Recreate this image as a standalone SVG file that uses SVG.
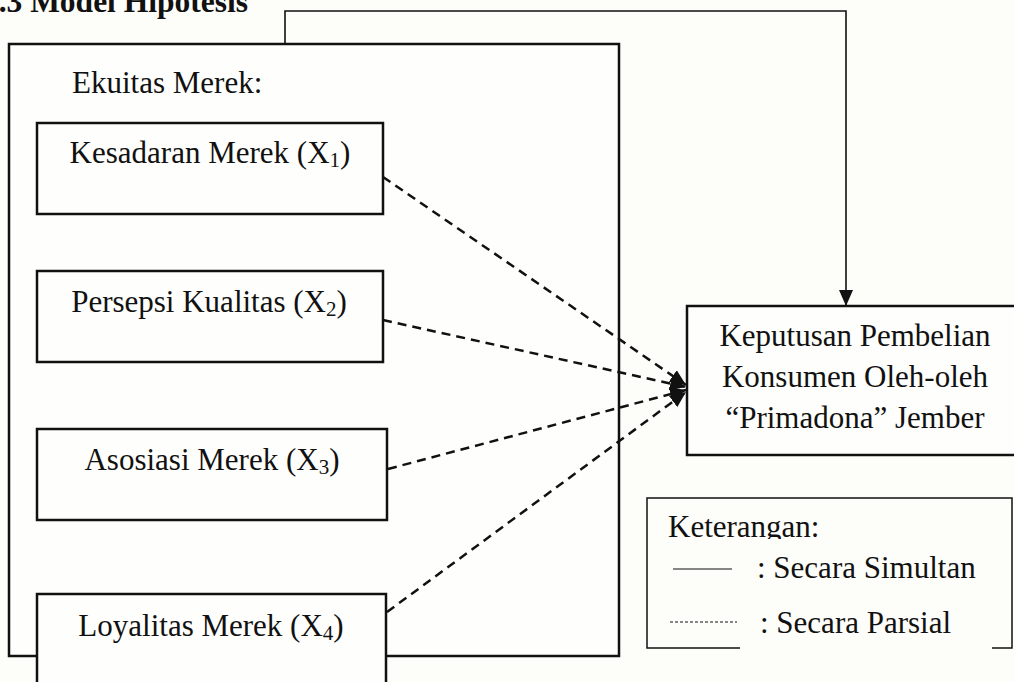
<svg xmlns="http://www.w3.org/2000/svg" width="1014" height="682" viewBox="0 0 1014 682">
  <defs>
    <style>
      .t { font-family: "Liberation Serif", "Times New Roman", serif; font-size: 31px; fill: #111; }
      .tb { font-family: "Liberation Serif", "Times New Roman", serif; font-size: 31.5px; font-weight: bold; fill: #111; }
      .box { fill: #fefefc; stroke: #111; stroke-width: 2.5; }
      .solid { fill: none; stroke: #111; stroke-width: 1.6; }
      .dash { fill: none; stroke: #111; stroke-width: 2.5; stroke-dasharray: 9 6; }
      .sub { font-size: 21px; }
    </style>
    <marker id="arr" viewBox="0 0 16 14" refX="16" refY="7" markerWidth="16" markerHeight="14" markerUnits="userSpaceOnUse" orient="auto">
      <path d="M0,0 L16,7 L0,14 Z" fill="#111"/>
    </marker>
    <clipPath id="ketClip">
      <rect x="650" y="500" width="300" height="39"/>
    </clipPath>
  </defs>
  <rect x="0" y="0" width="1014" height="682" fill="#fdfdf9"/>

  <text class="tb" x="248" y="12" text-anchor="end">.3 Model Hipotesis</text>

  <g id="ekuitas">
    <path d="M9,44 H619 V656 H9 Z" class="box"/>
    <text class="t" x="72" y="93">Ekuitas Merek:</text>
  </g>

  <g id="x1">
    <rect x="37" y="123" width="346" height="91" class="box"/>
    <text class="t" x="210" y="163" text-anchor="middle">Kesadaran Merek (X<tspan class="sub" dy="4">1</tspan><tspan dy="-4">)</tspan></text>
  </g>
  <g id="x2">
    <rect x="37" y="271" width="346" height="91" class="box"/>
    <text class="t" x="209" y="312" text-anchor="middle">Persepsi Kualitas (X<tspan class="sub" dy="4">2</tspan><tspan dy="-4">)</tspan></text>
  </g>
  <g id="x3">
    <rect x="37" y="429" width="350" height="91" class="box"/>
    <text class="t" x="212" y="470" text-anchor="middle">Asosiasi Merek (X<tspan class="sub" dy="4">3</tspan><tspan dy="-4">)</tspan></text>
  </g>
  <g id="x4">
    <rect x="37" y="594" width="349" height="120" class="box"/>
    <text class="t" x="211" y="636" text-anchor="middle">Loyalitas Merek (X<tspan class="sub" dy="4">4</tspan><tspan dy="-4">)</tspan></text>
  </g>

  <g id="y">
    <rect x="687" y="306" width="340" height="149" class="box"/>
    <text class="t" x="855" y="346" text-anchor="middle">Keputusan Pembelian</text>
    <text class="t" x="855" y="387" text-anchor="middle">Konsumen Oleh-oleh</text>
    <text class="t" x="855" y="428" text-anchor="middle">“Primadona” Jember</text>
  </g>

  <g id="connectors">
    <path d="M285,44 V11 H846 V306" class="solid" marker-end="url(#arr)"/>
    <line x1="383" y1="177" x2="686" y2="385" class="dash" marker-end="url(#arr)"/>
    <line x1="383" y1="320" x2="686" y2="387" class="dash" marker-end="url(#arr)"/>
    <line x1="388" y1="469" x2="686" y2="390" class="dash" marker-end="url(#arr)"/>
    <line x1="387" y1="612" x2="686" y2="392" class="dash" marker-end="url(#arr)"/>
  </g>

  <g id="legend">
    <path d="M740,648 H647 V498 H1012 V648 H992" fill="none" stroke="#111" stroke-width="1.5"/>
    <text class="t" x="668" y="537" clip-path="url(#ketClip)">Keterangan:</text>
    <line x1="673" y1="569" x2="732" y2="569" stroke="#111" stroke-width="1.2"/>
    <text class="t" x="757" y="578">: Secara Simultan</text>
    <line x1="670" y1="622" x2="737" y2="622" stroke="#111" stroke-width="1" stroke-dasharray="3 2"/>
    <text class="t" x="760" y="633">: Secara Parsial</text>
  </g>
</svg>
